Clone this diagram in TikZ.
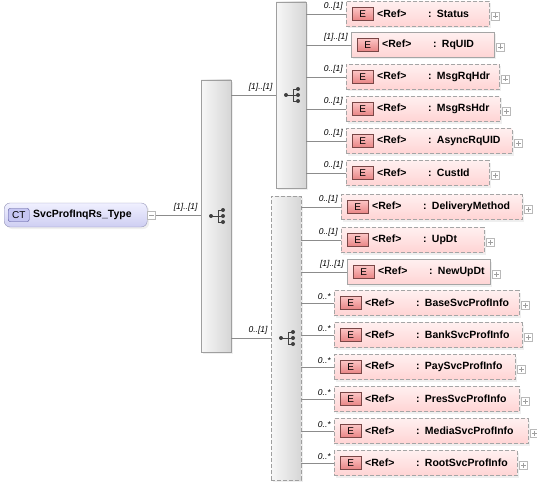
\documentclass[tikz,border=0pt]{standalone}
\usepackage{fontspec}
\setmainfont{Liberation Sans}
\usetikzlibrary{positioning,shadows}
\definecolor{elemtop}{RGB}{255,240,240}
\definecolor{elembot}{RGB}{255,212,212}
\definecolor{elemline}{RGB}{165,165,165}
\definecolor{badgetop}{RGB}{252,196,196}
\definecolor{badgebot}{RGB}{232,132,132}
\definecolor{badgeline}{RGB}{120,70,70}
\definecolor{cttop}{RGB}{240,240,255}
\definecolor{ctbot}{RGB}{206,206,242}
\definecolor{ctline}{RGB}{150,150,185}
\definecolor{ctfill}{RGB}{198,198,242}
\definecolor{seqleft}{RGB}{247,247,247}
\definecolor{seqright}{RGB}{214,214,214}
\definecolor{wire}{RGB}{140,140,140}

\begin{document}
\begin{tikzpicture}[x=1pt,y=-1pt,
  elem/.style={draw=elemline, top color=elemtop, bottom color=elembot, anchor=west, minimum height=25pt, inner xsep=0pt, inner ysep=0pt, align=left, font=\fontsize{10.5}{12}\selectfont\bfseries, drop shadow={shadow xshift=2pt, shadow yshift=-2pt, fill=black!12}},
  opt/.style={dash pattern=on 4pt off 2pt},
  badge/.style={draw=badgeline, top color=badgetop, bottom color=badgebot, minimum width=21pt, minimum height=13pt, inner sep=0pt, font=\fontsize{10}{12}\selectfont},
  plusbox/.style={draw=gray!55, fill=white, minimum size=8pt, inner sep=0pt, path picture={\draw[gray!75] ([xshift=1.5pt]path picture bounding box.west) -- ([xshift=-1.5pt]path picture bounding box.east) ([yshift=-1.5pt]path picture bounding box.north) -- ([yshift=1.5pt]path picture bounding box.south);}},
  minusbox/.style={draw=gray!55, fill=white, minimum size=8pt, inner sep=0pt, path picture={\draw[gray!75] ([xshift=1.5pt]path picture bounding box.west) -- ([xshift=-1.5pt]path picture bounding box.east);}},
  seqbox/.style={draw=gray!75, left color=seqleft, right color=seqright, minimum width=30pt, inner sep=0pt, drop shadow={shadow xshift=2pt, shadow yshift=-2pt, fill=black!12}},
  wire/.style={draw=wire, line width=0.6pt},
  mult/.style={anchor=south east, inner sep=1pt, xshift=-2pt, yshift=2pt, font=\fontsize{8.5}{10}\selectfont\itshape},
  seqicon/.pic={
    \draw[black!75, line width=0.8pt] (-5,0) -- (2,0) (2,-6) -- (2,6) (2,-6) -- (7,-6) (2,0) -- (7,0) (2,6) -- (7,6);
    \fill[black!75] (-5,0) circle (2pt) (7,-6) circle (2pt) (7,0) circle (2pt) (7,6) circle (2pt);
  }]
  \useasboundingbox (0,0) rectangle (537,484);

  % complex type
  \node[draw=ctline, rounded corners=6pt, top color=cttop, bottom color=ctbot, anchor=west, minimum height=24pt, text width=143pt, inner xsep=0pt, align=left, font=\fontsize{10.5}{12}\selectfont\bfseries, drop shadow={shadow xshift=2pt, shadow yshift=-2pt, fill=black!12}] (svc) at (4,215) {\hspace*{29pt}SvcProfInqRs\_Type};
  \node[draw=blue!40!black!70, fill=ctfill, rounded corners=2pt, minimum width=21pt, minimum height=13pt, inner sep=0pt, font=\fontsize{10}{12}\selectfont, right=4pt of svc.west] (svcCT) {CT};
  \node[minusbox, right=0pt of svc.east] (svcM) {};

  % sequences
  \node[seqbox, minimum height=272pt] (seqmain) at (216,216) {};
  \node[seqbox, minimum height=186pt] (seqhdr) at (291,95) {};
  \node[seqbox, opt, minimum height=284pt] (seqbody) at (286,338) {};
  \pic at (seqmain) {seqicon};
  \pic at (seqhdr) {seqicon};
  \pic at (seqbody) {seqicon};

  \draw[wire] (svcM.east) -- (seqmain.west |- svcM.east) node[mult] {[1]..[1]};
  \draw[wire] (seqmain.east |- seqhdr.west) -- (seqhdr.west) node[mult] {[1]..[1]};
  \draw[wire] (seqmain.east |- seqbody.west) -- (seqbody.west) node[mult] {0..[1]};

  % header elements
  \node[elem, opt, text width=143pt] (status) at (346,14) {\hspace*{31pt}\makebox[51pt][l]{<Ref>}: Status};
  \node[elem, text width=143pt] (rquid) at (351,45) {\hspace*{31pt}\makebox[51pt][l]{<Ref>}: RqUID};
  \node[elem, opt, text width=153pt] (msgrqhdr) at (346,77) {\hspace*{31pt}\makebox[51pt][l]{<Ref>}: MsgRqHdr};
  \node[elem, opt, text width=154pt] (msgrshdr) at (346,109) {\hspace*{31pt}\makebox[51pt][l]{<Ref>}: MsgRsHdr};
  \node[elem, opt, text width=166pt] (asyncrquid) at (346,141) {\hspace*{31pt}\makebox[51pt][l]{<Ref>}: AsyncRqUID};
  \node[elem, opt, text width=143pt] (custid) at (346,173) {\hspace*{31pt}\makebox[51pt][l]{<Ref>}: CustId};

  % body elements
  \node[elem, opt, text width=181pt] (delivery) at (341,207) {\hspace*{31pt}\makebox[51pt][l]{<Ref>}: DeliveryMethod};
  \node[elem, opt, text width=143pt] (updt) at (341,240) {\hspace*{31pt}\makebox[51pt][l]{<Ref>}: UpDt};
  \node[elem, text width=143pt] (newupdt) at (347,272) {\hspace*{31pt}\makebox[51pt][l]{<Ref>}: NewUpDt};
  \node[elem, opt, text width=185pt] (baseinfo) at (334,303) {\hspace*{31pt}\makebox[51pt][l]{<Ref>}: BaseSvcProfInfo};
  \node[elem, opt, text width=188pt] (bankinfo) at (334,335) {\hspace*{31pt}\makebox[51pt][l]{<Ref>}: BankSvcProfInfo};
  \node[elem, opt, text width=181pt] (payinfo) at (334,367) {\hspace*{31pt}\makebox[51pt][l]{<Ref>}: PaySvcProfInfo};
  \node[elem, opt, text width=185pt] (presinfo) at (334,399) {\hspace*{31pt}\makebox[51pt][l]{<Ref>}: PresSvcProfInfo};
  \node[elem, opt, text width=194pt] (mediainfo) at (334,431) {\hspace*{31pt}\makebox[51pt][l]{<Ref>}: MediaSvcProfInfo};
  \node[elem, opt, text width=183pt] (rootinfo) at (334,463) {\hspace*{31pt}\makebox[51pt][l]{<Ref>}: RootSvcProfInfo};

  % badges
  \node[badge, right=6pt of status.west] (statusE) {E};
  \node[badge, right=6pt of rquid.west] (rquidE) {E};
  \node[badge, right=6pt of msgrqhdr.west] (msgrqhdrE) {E};
  \node[badge, right=6pt of msgrshdr.west] (msgrshdrE) {E};
  \node[badge, right=6pt of asyncrquid.west] (asyncrquidE) {E};
  \node[badge, right=6pt of custid.west] (custidE) {E};
  \node[badge, right=6pt of delivery.west] (deliveryE) {E};
  \node[badge, right=6pt of updt.west] (updtE) {E};
  \node[badge, right=6pt of newupdt.west] (newupdtE) {E};
  \node[badge, right=6pt of baseinfo.west] (baseinfoE) {E};
  \node[badge, right=6pt of bankinfo.west] (bankinfoE) {E};
  \node[badge, right=6pt of payinfo.west] (payinfoE) {E};
  \node[badge, right=6pt of presinfo.west] (presinfoE) {E};
  \node[badge, right=6pt of mediainfo.west] (mediainfoE) {E};
  \node[badge, right=6pt of rootinfo.west] (rootinfoE) {E};

  % expand boxes
  \node[plusbox, right=2pt of status.east, yshift=-2pt] (statusP) {};
  \node[plusbox, right=2pt of rquid.east, yshift=-2pt] (rquidP) {};
  \node[plusbox, right=2pt of msgrqhdr.east, yshift=-2pt] (msgrqhdrP) {};
  \node[plusbox, right=2pt of msgrshdr.east, yshift=-2pt] (msgrshdrP) {};
  \node[plusbox, right=2pt of asyncrquid.east, yshift=-2pt] (asyncrquidP) {};
  \node[plusbox, right=2pt of custid.east, yshift=-2pt] (custidP) {};
  \node[plusbox, right=2pt of delivery.east, yshift=-2pt] (deliveryP) {};
  \node[plusbox, right=2pt of updt.east, yshift=-2pt] (updtP) {};
  \node[plusbox, right=2pt of newupdt.east, yshift=-2pt] (newupdtP) {};
  \node[plusbox, right=2pt of baseinfo.east, yshift=-2pt] (baseinfoP) {};
  \node[plusbox, right=2pt of bankinfo.east, yshift=-2pt] (bankinfoP) {};
  \node[plusbox, right=2pt of payinfo.east, yshift=-2pt] (payinfoP) {};
  \node[plusbox, right=2pt of presinfo.east, yshift=-2pt] (presinfoP) {};
  \node[plusbox, right=2pt of mediainfo.east, yshift=-2pt] (mediainfoP) {};
  \node[plusbox, right=2pt of rootinfo.east, yshift=-2pt] (rootinfoP) {};

  % connectors
  \draw[wire] (seqhdr.east |- status.west) -- (status.west) node[mult] {0..[1]};
  \draw[wire] (seqhdr.east |- rquid.west) -- (rquid.west) node[mult] {[1]..[1]};
  \draw[wire] (seqhdr.east |- msgrqhdr.west) -- (msgrqhdr.west) node[mult] {0..[1]};
  \draw[wire] (seqhdr.east |- msgrshdr.west) -- (msgrshdr.west) node[mult] {0..[1]};
  \draw[wire] (seqhdr.east |- asyncrquid.west) -- (asyncrquid.west) node[mult] {0..[1]};
  \draw[wire] (seqhdr.east |- custid.west) -- (custid.west) node[mult] {0..[1]};
  \draw[wire] (seqbody.east |- delivery.west) -- (delivery.west) node[mult] {0..[1]};
  \draw[wire] (seqbody.east |- updt.west) -- (updt.west) node[mult] {0..[1]};
  \draw[wire] (seqbody.east |- newupdt.west) -- (newupdt.west) node[mult] {[1]..[1]};
  \draw[wire] (seqbody.east |- baseinfo.west) -- (baseinfo.west) node[mult] {0..*};
  \draw[wire] (seqbody.east |- bankinfo.west) -- (bankinfo.west) node[mult] {0..*};
  \draw[wire] (seqbody.east |- payinfo.west) -- (payinfo.west) node[mult] {0..*};
  \draw[wire] (seqbody.east |- presinfo.west) -- (presinfo.west) node[mult] {0..*};
  \draw[wire] (seqbody.east |- mediainfo.west) -- (mediainfo.west) node[mult] {0..*};
  \draw[wire] (seqbody.east |- rootinfo.west) -- (rootinfo.west) node[mult] {0..*};
\end{tikzpicture}
\end{document}
